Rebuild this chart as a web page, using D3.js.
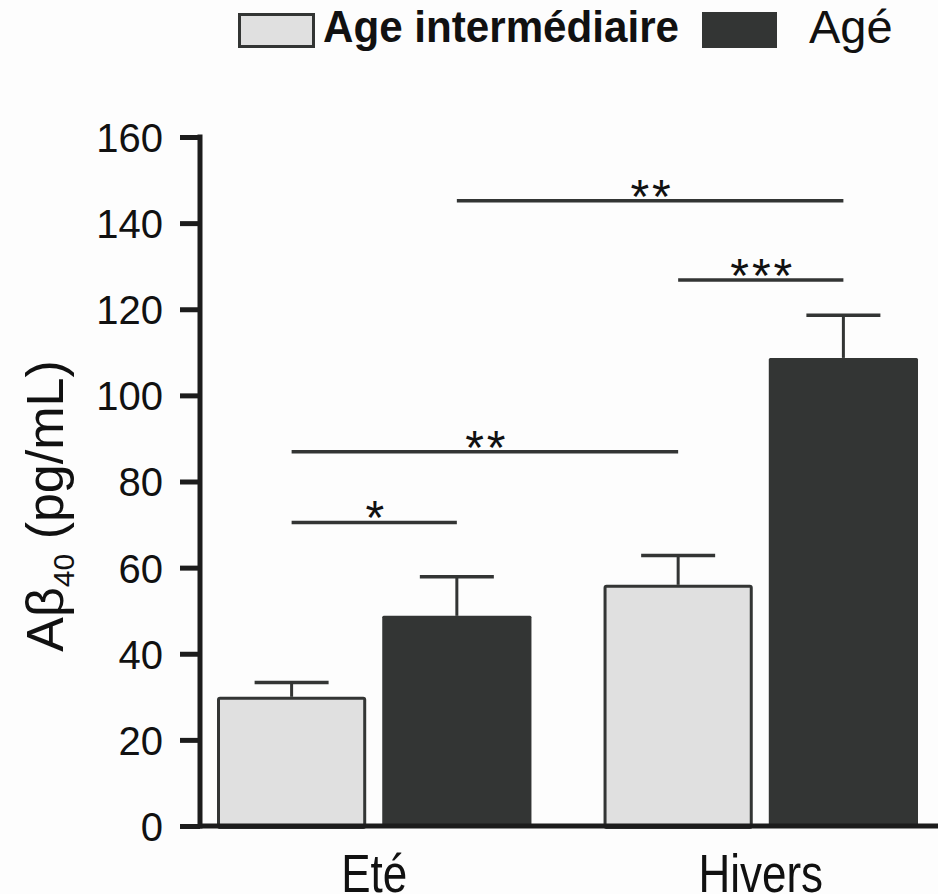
<!DOCTYPE html>
<html>
<head>
<meta charset="utf-8">
<script src="https://cdn.jsdelivr.net/npm/d3@7"></script>
<style>
  html, body { margin: 0; padding: 0; background: #fdfdfd; }
  svg { display: block; }
  text { font-family: "Liberation Sans", Arial, sans-serif; fill: #111; }
</style>
</head>
<body>
<svg id="chart" width="938" height="894"></svg>
<script>
// ---- data ----
const categories = ["Eté", "Hivers"];
const seriesNames = ["Age intermédiaire", "Agé"];
const meanIntermediate = [30, 56];
const meanAged = [48.8, 108.7];
const semIntermediate = [3.3, 6.8];
const semAged = [9.1, 9.9];
const yTicks = [0, 20, 40, 60, 80, 100, 120, 140, 160];
// significance brackets: [category, series] endpoints, y level, label
const sigFrom = [[0, 0], [0, 0], [1, 0], [0, 1]];
const sigTo = [[0, 1], [1, 0], [1, 1], [1, 1]];
const sigLevel = [70.5, 86.9, 126.8, 145.2];
const sigLabel = ["*", "**", "***", "**"];

const values = [meanIntermediate, meanAged];
const errors = [semIntermediate, semAged];

const svg = d3.select("#chart");
const fills = ["#e0e0e0", "#333534"];
const ink = "#333534";

const y = d3.scaleLinear().domain([0, 160]).range([826, 137]);
const x0 = d3.scaleBand().domain(categories).range([217, 918]).paddingInner(0.1865).paddingOuter(0);
const x1 = d3.scaleBand().domain(seriesNames).range([0, x0.bandwidth()]).paddingInner(0.097).paddingOuter(0);

function barCenter(ci, si) {
  return x0(categories[ci]) + x1(seriesNames[si]) + x1.bandwidth() / 2;
}

const barData = [];
categories.forEach((c, ci) => seriesNames.forEach((s, si) => {
  barData.push({ ci, si, v: values[si][ci], e: errors[si][ci] });
}));

// error bars
const eb = svg.append("g");
barData.forEach(d => {
  const cx = barCenter(d.ci, d.si);
  eb.append("line").attr("x1", cx).attr("x2", cx)
    .attr("y1", y(d.v)).attr("y2", y(d.v + d.e))
    .attr("stroke", ink).attr("stroke-width", 3);
  eb.append("line").attr("x1", cx - 37).attr("x2", cx + 37)
    .attr("y1", y(d.v + d.e)).attr("y2", y(d.v + d.e))
    .attr("stroke", ink).attr("stroke-width", 3.5);
});

// bars
svg.append("g").selectAll("rect").data(barData).join("rect")
  .attr("x", d => x0(categories[d.ci]) + x1(seriesNames[d.si]) + (d.si === 0 ? 1.5 : 0))
  .attr("width", d => x1.bandwidth() - (d.si === 0 ? 3 : 0))
  .attr("y", d => y(d.v) + (d.si === 0 ? 1.5 : 0))
  .attr("height", d => y(0) - y(d.v))
  .attr("fill", d => fills[d.si])
  .attr("stroke", d => d.si === 0 ? ink : "none")
  .attr("stroke-width", 3)
  .attr("rx", 1.5);

// y axis
const yAxis = d3.axisLeft(y).tickValues(yTicks).tickSize(20).tickPadding(17);
const gy = svg.append("g").attr("transform", "translate(200,0)").call(yAxis);
gy.select(".domain").remove();
gy.selectAll(".tick line").attr("stroke", "#1c1c1c").attr("stroke-width", 5);
gy.selectAll(".tick text").attr("font-size", 40).attr("fill", "#111")
  .attr("font-family", "'Liberation Sans', Arial, sans-serif").attr("dy", "0.36em");
svg.append("line").attr("x1", 200).attr("x2", 200).attr("y1", y(160) - 2.5).attr("y2", y(0) + 2.5)
  .attr("stroke", "#1c1c1c").attr("stroke-width", 5);
// x axis line
svg.append("line").attr("x1", 198).attr("x2", 938).attr("y1", y(0)).attr("y2", y(0))
  .attr("stroke", "#1c1c1c").attr("stroke-width", 5);

// x labels
const xAxis = d3.axisBottom(x0).tickSize(0).tickPadding(0);
const gx = svg.append("g").attr("transform", "translate(0,826)").call(xAxis);
gx.select(".domain").remove();
gx.selectAll(".tick text").attr("font-size", 44).attr("fill", "#111")
  .attr("font-family", "'Liberation Sans', Arial, sans-serif")
  .attr("dy", null).attr("y", 0)
  .attr("transform", "translate(0,66) scale(1,1.2)");

// y label
const yl = svg.append("text").attr("transform", "translate(63,506) rotate(-90)")
  .attr("text-anchor", "middle").attr("font-size", 52);
yl.append("tspan").text("Aβ");
yl.append("tspan").text("40").attr("font-size", 30).attr("dy", 11);
yl.append("tspan").text(" (pg/mL)").attr("dy", -11);

// significance
sigLevel.forEach((lv, i) => {
  const xa = barCenter(sigFrom[i][0], sigFrom[i][1]);
  const xb = barCenter(sigTo[i][0], sigTo[i][1]);
  svg.append("line").attr("x1", xa).attr("x2", xb).attr("y1", y(lv)).attr("y2", y(lv))
    .attr("stroke", ink).attr("stroke-width", 3.5);
  svg.append("text").attr("x", (xa + xb) / 2 + 2).attr("y", y(lv) + 12)
    .attr("text-anchor", "middle").attr("font-size", 48).attr("letter-spacing", 3)
    .text(sigLabel[i]);
});

// legend
const lg = svg.append("g");
lg.append("rect").attr("x", 239.5).attr("y", 14.5).attr("width", 74).attr("height", 32)
  .attr("fill", fills[0]).attr("stroke", ink).attr("stroke-width", 3);
lg.append("text").attr("x", 323).attr("y", 42).attr("font-size", 44).attr("font-weight", "bold")
  .attr("textLength", 356).attr("lengthAdjust", "spacingAndGlyphs").text(seriesNames[0]);
lg.append("rect").attr("x", 702).attr("y", 12).attr("width", 75).attr("height", 36)
  .attr("fill", fills[1]);
lg.append("text").attr("x", 809).attr("y", 43).attr("font-size", 47).text(seriesNames[1]);
</script>
</body>
</html>
